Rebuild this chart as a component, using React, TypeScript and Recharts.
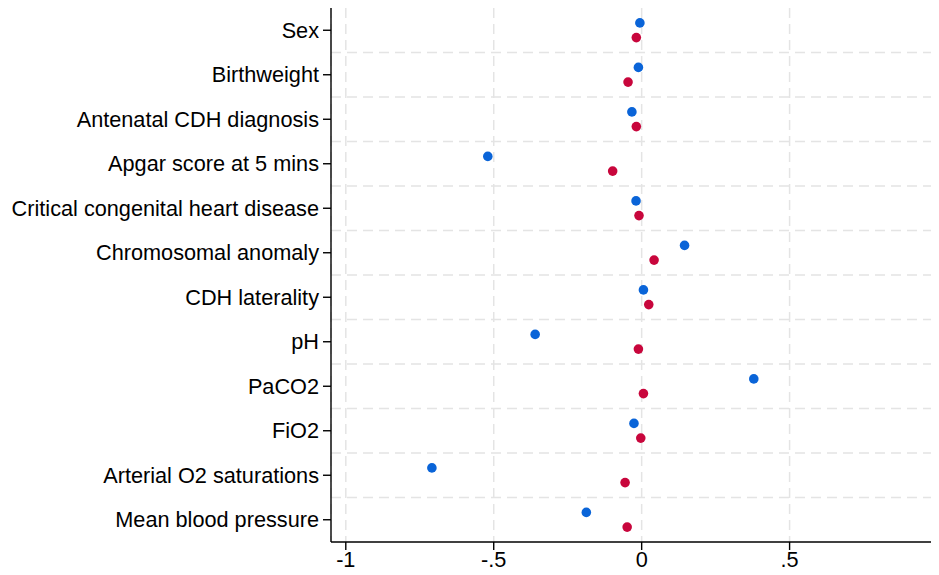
import React from "react";
import {
  ScatterChart,
  Scatter,
  XAxis,
  YAxis,
  CartesianGrid,
  ReferenceLine,
} from "recharts";

const categories: string[] = [
  "Sex",
  "Birthweight",
  "Antenatal CDH diagnosis",
  "Apgar score at 5 mins",
  "Critical congenital heart disease",
  "Chromosomal anomaly",
  "CDH laterality",
  "pH",
  "PaCO2",
  "FiO2",
  "Arterial O2 saturations",
  "Mean blood pressure",
];

const blueValues: number[] = [
  -0.006, -0.011, -0.033, -0.52, -0.019, 0.145, 0.006, -0.36, 0.379, -0.026, -0.709, -0.187,
];

const redValues: number[] = [
  -0.018, -0.046, -0.018, -0.098, -0.009, 0.042, 0.024, -0.011, 0.006, -0.003, -0.056, -0.049,
];

const xTicks: number[] = [-1, -0.5, 0, 0.5];
const xTickLabels: string[] = ["-1", "-.5", "0", ".5"];

const OFFSET = 0.165;
const BLUE = "#0a64d8";
const RED = "#c8063c";

const blueData = blueValues.map((v, i) => ({ x: v, y: i - OFFSET }));
const redData = redValues.map((v, i) => ({ x: v, y: i + OFFSET }));
const yTicks = categories.map((_, i) => i);
const boundaries = categories.slice(1).map((_, i) => i + 0.5);

const makeDot = (color: string) => (props: any) => (
  <circle cx={props.cx} cy={props.cy} r={4.8} fill={color} />
);

export default function App() {
  const font = { fontFamily: "Liberation Sans, Arial, sans-serif", fontSize: 21.7, fill: "#000" };
  return (
    <ScatterChart
      width={931}
      height={567}
      margin={{ top: 0, right: 0, bottom: 0, left: 0 }}
    >
      <CartesianGrid
        horizontal={false}
        vertical={true}
        stroke="#e4e4e4"
        strokeWidth={1.5}
        strokeDasharray="10 6"
      />
      {boundaries.map((b) => (
        <ReferenceLine
          key={b}
          y={b}
          stroke="#e4e4e4"
          strokeWidth={1.5}
          strokeDasharray="10 6"
        />
      ))}
      <XAxis
        type="number"
        dataKey="x"
        domain={[-1.05, 1.005]}
        ticks={xTicks}
        tickFormatter={(v: number) => xTickLabels[xTicks.indexOf(v)] ?? String(v)}
        tick={font}
        tickSize={8}
        tickMargin={2}
        height={33}
        axisLine={{ stroke: "#000", strokeWidth: 1.4 }}
        tickLine={{ stroke: "#000", strokeWidth: 1.4 }}
        allowDataOverflow
      />
      <YAxis
        type="number"
        dataKey="y"
        domain={[-0.5, 11.5]}
        reversed
        ticks={yTicks}
        interval={0}
        tickFormatter={(v: number) => categories[v] ?? ""}
        tick={font}
        tickSize={8}
        tickMargin={4}
        width={323}
        axisLine={{ stroke: "#000", strokeWidth: 1.4 }}
        tickLine={{ stroke: "#000", strokeWidth: 1.4 }}
        allowDataOverflow
      />
      <Scatter data={blueData} fill={BLUE} shape={makeDot(BLUE)} isAnimationActive={false} />
      <Scatter data={redData} fill={RED} shape={makeDot(RED)} isAnimationActive={false} />
    </ScatterChart>
  );
}
